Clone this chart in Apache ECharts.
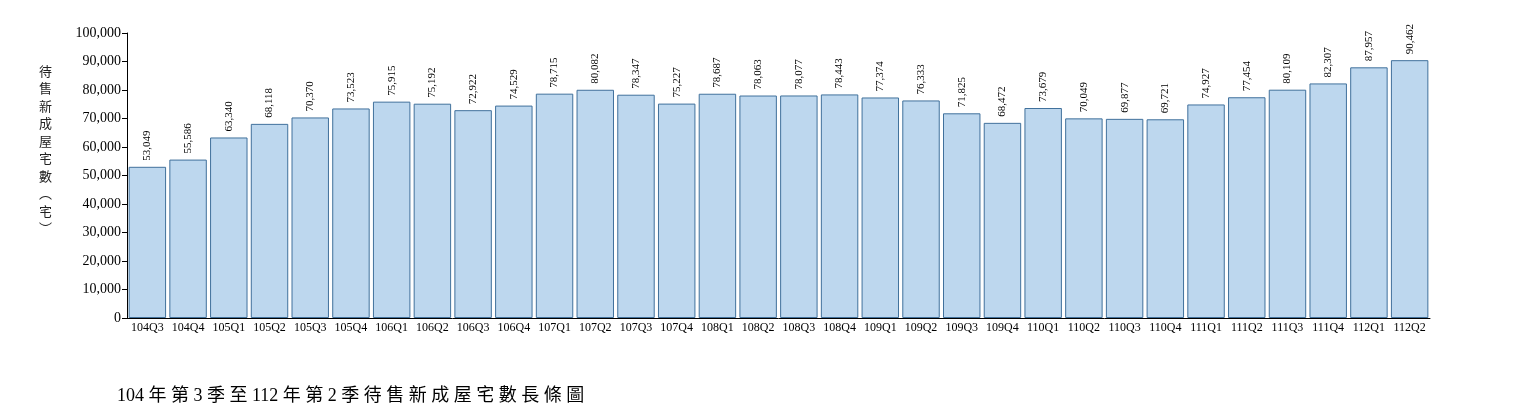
<!DOCTYPE html>
<html lang="zh-Hant">
<head>
<meta charset="UTF-8">
<title>待售新成屋宅數長條圖</title>
<style>
  * { margin: 0; padding: 0; }
  body { background: #fff; }
  #chart { width: 1520px; height: 413px; }
</style>
<script src="https://cdn.jsdelivr.net/npm/echarts@6/dist/echarts.min.js"></script>
</head>
<body>
<div id="chart"></div>
<script>
var quarters = ['104Q3','104Q4','105Q1','105Q2','105Q3','105Q4','106Q1','106Q2','106Q3','106Q4',
  '107Q1','107Q2','107Q3','107Q4','108Q1','108Q2','108Q3','108Q4','109Q1','109Q2',
  '109Q3','109Q4','110Q1','110Q2','110Q3','110Q4','111Q1','111Q2','111Q3','111Q4','112Q1','112Q2'];
var units = [53049,55586,63340,68118,70370,73523,75915,75192,72922,74529,
  78715,80082,78347,75227,78687,78063,78077,78443,77374,76333,
  71825,68472,73679,70049,69877,69721,74927,77454,80109,82307,87957,90462];

var font = '"Liberation Serif", "Noto Sans CJK TC", serif';
var cjk = '"Noto Sans CJK TC", sans-serif';
var chart = echarts.init(document.getElementById('chart'));
chart.setOption({
  animation: false,
  textStyle: { fontFamily: font },
  title: {
    text: '104 年 第 3 季 至 112 年 第 2 季 待 售 新 成 屋 宅 數 長 條 圖',
    left: 112, top: 382,
    textStyle: { fontFamily: font, fontSize: 18, fontWeight: 'normal', color: '#000' }
  },
  graphic: [{
    type: 'text', left: 39, top: 62,
    style: { text: '待\n售\n新\n成\n屋\n宅\n數\n︵\n宅\n︶', font: '13px ' + cjk, fill: '#222', lineHeight: 17.5, textAlign: 'center' }
  }],
  grid: { left: 127, right: 90, top: 33, bottom: 95 },
  xAxis: {
    type: 'category',
    data: quarters,
    axisLine: { lineStyle: { color: '#000' } },
    axisTick: { lineStyle: { color: '#000' } },
    axisLabel: { color: '#000', fontSize: 12, fontFamily: font, interval: 0, margin: 4 }
  },
  yAxis: {
    type: 'value', min: 0, max: 100000, interval: 10000,
    splitLine: { show: false },
    axisLine: { show: true, lineStyle: { color: '#000' } },
    axisTick: { show: true, lineStyle: { color: '#000' } },
    axisLabel: {
      color: '#000', fontSize: 14, fontFamily: font, margin: 6,
      formatter: function (v) { return v.toLocaleString('en-US'); }
    }
  },
  series: [{
    type: 'bar',
    data: units,
    barCategoryGap: '8%',
    itemStyle: { color: '#BDD7EE', borderColor: '#41719C', borderWidth: 1 },
    label: {
      show: true, position: 'top', rotate: 90, align: 'left', verticalAlign: 'middle',
      distance: 6, color: '#000', fontSize: 11, fontFamily: font,
      formatter: function (p) { return p.value.toLocaleString('en-US'); }
    }
  }]
});
</script>
</body>
</html>
